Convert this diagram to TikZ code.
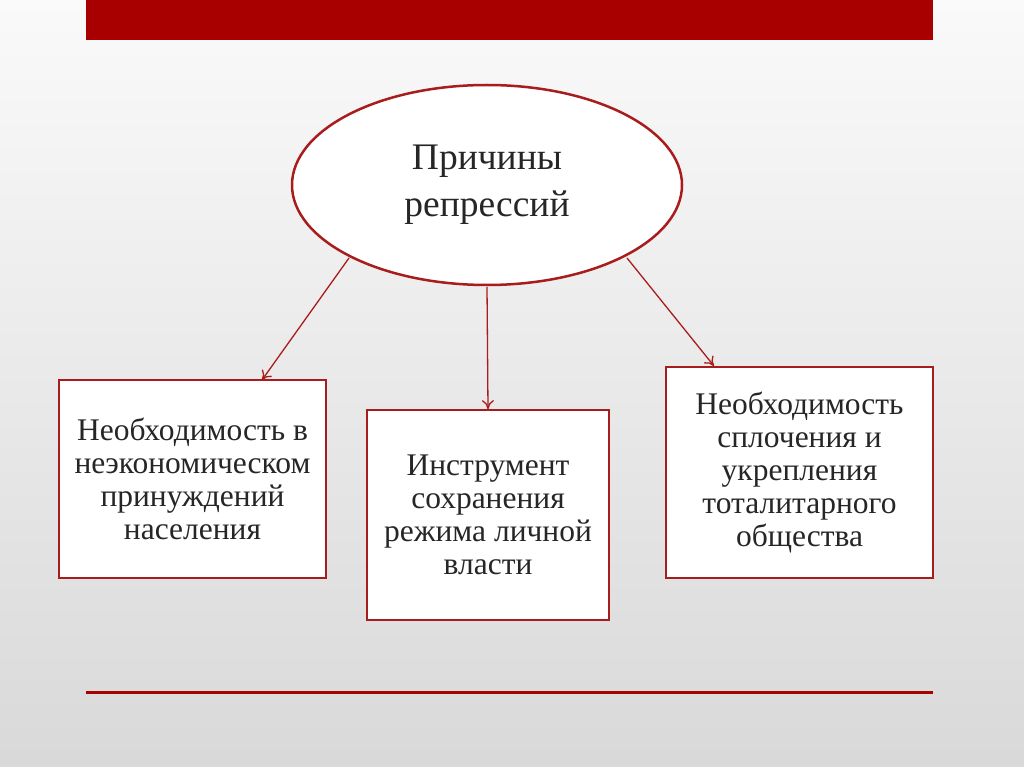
\documentclass[tikz,border=0pt]{standalone}
\usepackage{fontspec}
\setmainfont{Liberation Serif}
\usetikzlibrary{arrows.meta,shapes.geometric}
\definecolor{barred}{HTML}{A80000}
\definecolor{bordred}{HTML}{A81C1C}
\definecolor{txt}{HTML}{262626}
\tikzset{
  box/.style={draw=bordred,line width=1.8pt,fill=white,text=txt,align=center,inner sep=2pt,font=\fontsize{31.5}{33}\selectfont},
  arr/.style={draw=bordred,line width=1.3pt,-{To[length=9pt,width=12pt]}}
}
\begin{document}
\begin{tikzpicture}[x=1pt,y=-1pt]
\shade[top color=gray!4,bottom color=gray!30] (0,0) rectangle (1024,767);
\useasboundingbox (0,0) rectangle (1024,767);
\fill[barred] (86,0) rectangle (933,40);
\draw[barred,line width=3pt] (86,692) -- (933,692);
\node[ellipse,draw=bordred,line width=2.5pt,fill=white,minimum width=390pt,minimum height=200pt,inner sep=0pt,text=txt,align=center,font=\fontsize{37.5}{47}\selectfont] (e) at (487,185) {Причины\\репрессий};
\node[box,minimum width=267pt,minimum height=198pt] (l) at (192.5,479) {Необходимость в\\неэкономическом\\принуждений\\населения};
\node[box,minimum width=242pt,minimum height=210pt] (m) at (488,515) {Инструмент\\сохранения\\режима личной\\власти};
\node[box,minimum width=267pt,minimum height=211pt] (r) at (799.5,472.5) {Необходимость\\сплочения и\\укрепления\\тоталитарного\\общества};
\coordinate (a1) at (349,258); \coordinate (a2) at (487,287); \coordinate (a3) at (627,258);
\draw[arr] (a1) -- (262,380);
\draw[arr] (a2) -- (m.north);
\draw[arr] (a3) -- (714,366);
\end{tikzpicture}
\end{document}
